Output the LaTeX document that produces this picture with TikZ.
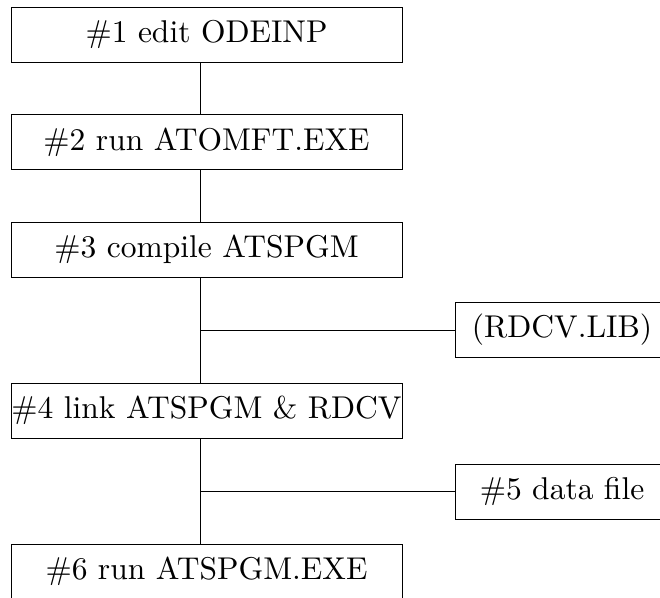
\documentclass[tikz,border=0pt]{standalone}
\usepackage{tikz}
\usepackage{graphicx}
% labels are set at 10pt and enlarged
\newcommand{\steplbl}[1]{\scalebox{3.15}{#1}}
\begin{document}
\begin{tikzpicture}[x=1pt,y=1pt,
  stage/.style={draw, line width=0.9pt, rectangle, inner sep=0pt,
    minimum width=391pt, minimum height=55pt},
  side/.style={draw, line width=0.9pt, rectangle, inner sep=0pt,
    minimum width=214pt, minimum height=55pt},
  link/.style={line width=0.9pt}]
\useasboundingbox (0,0) rectangle (660,597);
% main sequence of steps
\node[stage] (b1) at (206.5,562.5) {\steplbl{\#1 edit ODEINP}};
\node[stage] (b2) at (206.5,455)   {\steplbl{\#2 run ATOMFT.EXE}};
\node[stage] (b3) at (206.5,347.5) {\steplbl{\#3 compile ATSPGM}};
\node[stage] (b4) at (206.5,186.5) {\steplbl{\#4 link ATSPGM \& RDCV}};
\node[stage] (b6) at (206.5,25.5)  {\steplbl{\#6 run ATSPGM.EXE}};
% side inputs
\node[side] (lib)  at (562,267)   {\steplbl{(RDCV.LIB)}};
\node[side] (data) at (562,105.5) {\steplbl{\#5 data file}};
% spine of the chart
\coordinate (v) at (200,0);
\draw[link] (b1.south -| v) -- (b2.north -| v);
\draw[link] (b2.south -| v) -- (b3.north -| v);
\draw[link] (b3.south -| v) -- (b4.north -| v);
\draw[link] (b4.south -| v) -- (b6.north -| v);
% branches to the side inputs
\draw[link] (lib.west -| v) -- (lib.west);
\draw[link] (data.west -| v) -- (data.west);
\end{tikzpicture}
\end{document}
